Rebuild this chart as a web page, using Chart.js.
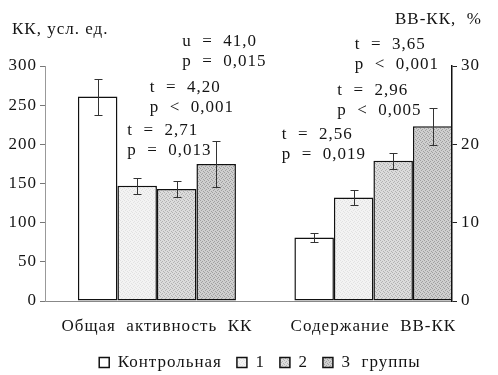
<!DOCTYPE html>
<html>
<head>
<meta charset="utf-8">
<script src="https://cdn.jsdelivr.net/npm/chart.js@4.4.1/dist/chart.umd.min.js"></script>
<style>
  html, body { margin: 0; padding: 0; background: #fff; }
  #wrap { width: 498px; height: 375px; }
</style>
</head>
<body>
<div id="wrap"><canvas id="chart" width="498" height="375"></canvas></div>
<script>
const groups = ['Общая  активность  КК', 'Содержание  ВВ-КК'];
const seriesNames = ['Контрольная', '1', '2', '3  группы'];
const kkValues = [261, 147, 143, 175];
const kkErrors = [23, 10, 10, 29];
const vvValues = [8.1, 13.2, 17.9, 22.3];
const vvErrors = [0.6, 1.0, 1.0, 2.4];
const kkTicks = [0, 300, 50];
const vvTicks = [0, 30, 10];
const noteTexts = [
  ['u  =  41,0', 'p  =  0,015'],
  ['t  =  4,20', 'p  <  0,001'],
  ['t  =  2,71', 'p  =  0,013'],
  ['t  =  3,65', 'p  <  0,001'],
  ['t  =  2,96', 'p  <  0,005'],
  ['t  =  2,56', 'p  =  0,019']
];

const FONT = "'Liberation Serif', 'DejaVu Serif', serif";
const INK = '#141414';

function stipple(light, dark) {
  const c = document.createElement('canvas');
  c.width = 4; c.height = 4;
  const g = c.getContext('2d');
  g.fillStyle = light;
  g.fillRect(0, 0, 4, 4);
  g.fillStyle = dark;
  [[0, 0], [2, 1], [1, 2], [3, 3]].forEach(([x, y]) => g.fillRect(x, y, 1, 1));
  return g.createPattern(c, 'repeat');
}

const fills = [
  '#ffffff',
  stipple('#f3f3f3', '#e2e2e2'),
  stipple('#dcdcdc', '#b2b2b2'),
  stipple('#cfcfcf', '#a0a0a0')
];

function barSet(name, i, x, value, err, axis) {
  return {
    label: name,
    data: [{ x, y: value }],
    err: [err],
    yAxisID: axis,
    backgroundColor: fills[i],
    borderColor: '#111',
    borderWidth: 1.5,
    borderSkipped: false
  };
}

const datasets = [
  ...seriesNames.map((n, i) => barSet(n, i, 0, kkValues[i], kkErrors[i], 'y')),
  ...seriesNames.map((n, i) => barSet(n, i, 1, vvValues[i], vvErrors[i], 'y2'))
];

// which bar each note sits over, and where (dx from bar centre, first line on its axis)
const notePlaces = [
  { ds: 3, dx: -34, at: 331 },
  { ds: 2, dx: -27, at: 272 },
  { ds: 1, dx: -10, at: 217 },
  { ds: 7, dx: -78, at: 32.7 },
  { ds: 6, dx: -56, at: 26.9 },
  { ds: 5, dx: -72, at: 21.2 }
];

const spacing = {
  id: 'spacing',
  beforeDraw(chart) { chart.ctx.letterSpacing = '1px'; }
};

const errorBars = {
  id: 'errorBars',
  afterDatasetsDraw(chart) {
    const ctx = chart.ctx;
    ctx.save();
    ctx.strokeStyle = '#333';
    ctx.lineWidth = 1;
    chart.data.datasets.forEach((ds, i) => {
      const scale = chart.scales[ds.yAxisID];
      chart.getDatasetMeta(i).data.forEach((bar, j) => {
        const v = ds.data[j].y, e = ds.err[j];
        const top = Math.round(scale.getPixelForValue(v + e)) + 0.5;
        const bot = Math.round(scale.getPixelForValue(v - e)) + 0.5;
        const x = Math.round(bar.x) + 0.5;
        ctx.beginPath();
        ctx.moveTo(x, top); ctx.lineTo(x, bot);
        ctx.moveTo(x - 4, top); ctx.lineTo(x + 4, top);
        ctx.moveTo(x - 4, bot); ctx.lineTo(x + 4, bot);
        ctx.stroke();
      });
    });
    ctx.restore();
  }
};

const notes = {
  id: 'notes',
  afterDraw(chart) {
    const ctx = chart.ctx;
    ctx.save();
    ctx.fillStyle = INK;
    ctx.font = `17px ${FONT}`;
    ctx.textBaseline = 'middle';
    ctx.textAlign = 'left';
    ctx.fillText('КК, усл. ед.', 12, 30);
    ctx.fillText('ВВ-КК,  %', 395, 20);
    noteTexts.forEach((lines, k) => {
      const p = notePlaces[k];
      const ds = chart.data.datasets[p.ds];
      const bar = chart.getDatasetMeta(p.ds).data[0];
      const y = chart.scales[ds.yAxisID].getPixelForValue(p.at);
      lines.forEach((t, li) => ctx.fillText(t, bar.x + p.dx, y + li * 20));
    });
    ctx.restore();
  }
};

new Chart(document.getElementById('chart'), {
  type: 'bar',
  data: { datasets },
  options: {
    responsive: false,
    animation: false,
    devicePixelRatio: 1,
    skipNull: true,
    barPercentage: 1,
    categoryPercentage: 0.73,
    layout: { padding: { top: 66, left: 0, right: 0, bottom: -6 } },
    font: { family: FONT, size: 17 },
    color: INK,
    plugins: {
      tooltip: { enabled: false },
      legend: {
        position: 'bottom',
        labels: {
          filter: item => item.datasetIndex < seriesNames.length,
          boxWidth: 10,
          boxHeight: 10,
          padding: 15,
          color: INK,
          font: { family: FONT, size: 17 }
        }
      }
    },
    scales: {
      x: {
        type: 'linear',
        offset: false,
        min: -0.517,
        max: 1.363,
        afterBuildTicks: s => { s.ticks = groups.map((g, i) => ({ value: i })); },
        afterFit: s => { s.height = 38; },
        grid: { display: false, drawTicks: false, offset: false },
        border: { color: '#888', width: 1 },
        ticks: {
          callback: v => groups[v],
          padding: 15,
          maxRotation: 0,
          autoSkip: false,
          color: INK,
          font: { family: FONT, size: 17 }
        }
      },
      y: {
        min: kkTicks[0],
        max: kkTicks[1],
        afterFit: s => { s.width = 45; },
        grid: { drawOnChartArea: false, tickLength: 5, color: '#777' },
        border: { color: '#999', width: 1 },
        ticks: { stepSize: kkTicks[2], padding: 3, color: INK, font: { family: FONT, size: 17 } }
      },
      y2: {
        position: 'right',
        min: vvTicks[0],
        max: vvTicks[1],
        afterFit: s => { s.width = 46; },
        grid: { drawOnChartArea: false, tickLength: 5, color: '#222' },
        border: { color: '#111', width: 1.5 },
        ticks: { stepSize: vvTicks[2], padding: 4, color: INK, font: { family: FONT, size: 17 } }
      }
    }
  },
  plugins: [spacing, errorBars, notes]
});
</script>
</body>
</html>
